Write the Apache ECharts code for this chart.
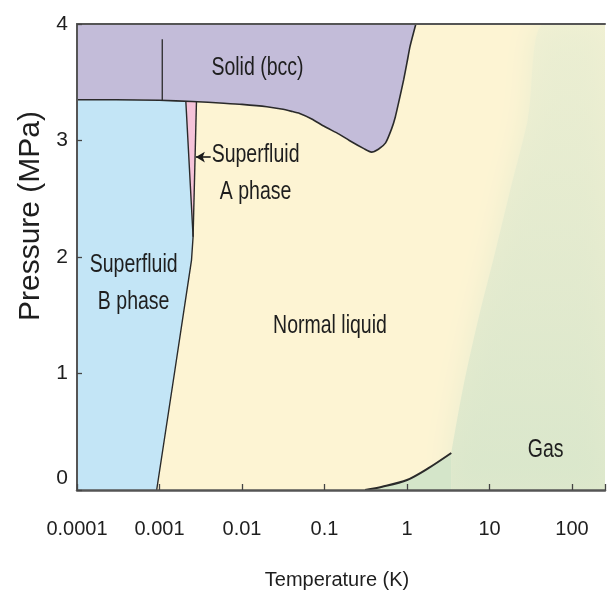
<!DOCTYPE html>
<html>
<head>
<meta charset="utf-8">
<script src="https://cdn.jsdelivr.net/npm/echarts@6/dist/echarts.min.js"></script>
<style>
html,body{margin:0;padding:0;background:#fff;}
#chart{width:608px;height:603px;}
</style>
</head>
<body>
<div id="chart"></div>
<script>
// ---- data ----
const xTickLabels = ['0.0001', '0.001', '0.01', '0.1', '1', '10', '100'];
const yTickLabels = ['0', '1', '2', '3', '4'];
const X_MIN = 0.0001, X_MAX = 251, Y_MIN = 0, Y_MAX = 4;

// melting curve (liquid / superfluid -> solid bcc)
const meltT = [0.0001, 0.0003, 0.001, 0.0025, 0.006, 0.01, 0.02, 0.03, 0.04, 0.05, 0.07, 0.1, 0.15, 0.2, 0.3, 0.37, 0.45, 0.55, 0.65, 0.72, 0.8, 0.91, 1.0, 1.09, 1.28];
const meltP = [3.35, 3.35, 3.345, 3.335, 3.32, 3.31, 3.29, 3.27, 3.25, 3.232, 3.185, 3.12, 3.055, 3.0, 2.93, 2.90, 2.925, 2.98, 3.10, 3.20, 3.34, 3.52, 3.67, 3.81, 4.0];

// boundary inside solid (vertical line)
const bccT = [0.00108, 0.00108];
const bccP = [3.345, 3.87];

// superfluid B boundary (B | normal, B | A)
const bBoundT = [0.000924, 0.001538, 0.002443, 0.002553, 0.002085];
const bBoundP = [0, 1.03, 1.974, 2.174, 3.336];

// A phase right boundary (A | normal)
const aRightT = [0.002553, 0.002805];
const aRightP = [2.174, 3.333];

// B phase region
const blueT = [0.0001, 0.000924, 0.001538, 0.002443, 0.002553, 0.002085, 0.001, 0.0003, 0.0001];
const blueP = [0, 0, 1.03, 1.974, 2.174, 3.336, 3.345, 3.35, 3.35];

// A phase region
const pinkT = [0.002085, 0.002553, 0.002805];
const pinkP = [3.336, 2.174, 3.333];

// vapour pressure curve
const vapT = [0.31, 0.5, 1.0, 1.8, 3.44];
const vapP = [0, 0.028, 0.086, 0.186, 0.318];

// soft liquid/gas edge above the critical point
const gasEdgeT = [3.44, 4.8, 7.27, 11.6, 18.2, 29.1, 46.6, X_MAX];
const gasEdgeP = [0.318, 0.884, 1.46, 2.03, 2.60, 3.18, 4.0, 4.0];

// region names
const regionNames = ['Solid (bcc)', 'Superfluid\nA phase', 'Superfluid\nB phase', 'Normal liquid', 'Gas'];
const regionT = [0.0154, 0.0146, 0.000486, 0.1164, 48];
const regionP = [3.618, 2.712, 1.773, 1.408, 0.343];

// arrow pointing at the A phase
const arrowT = [0.00417, 0.00276];
const arrowP = [2.858, 2.858];

// ---- chart ----
const FONT = "'Liberation Sans', Arial, sans-serif";
const TXT = '#1e1e1e';
const pairs = (a, b) => a.map((v, i) => [v, b[i]]);

function polygonSeries(Ts, Ps, color, z) {
  return {
    type: 'custom', silent: true, clip: true, z: z,
    data: pairs(Ts, Ps),
    encode: { x: 0, y: 1 },
    renderItem: function (params, api) {
      if (params.dataIndex !== 0) return null;
      const pts = Ts.map((t, i) => api.coord([t, Ps[i]]));
      return { type: 'polygon', shape: { points: pts }, style: { fill: color } };
    }
  };
}

function lineSeries(Ts, Ps, width, z, extra) {
  return Object.assign({
    type: 'line', silent: true, z: z,
    data: pairs(Ts, Ps),
    showSymbol: false, symbol: 'none',
    lineStyle: { color: '#2a2a2a', width: width }
  }, extra || {});
}

const chart = echarts.init(document.getElementById('chart'), null, { renderer: 'canvas' });

const option = {
  animation: false,
  grid: {
    left: 77, right: 0, top: 24, bottom: 113,
    show: true, backgroundColor: '#fdf4d3', borderWidth: 0
  },
  xAxis: [{
    type: 'log', logBase: 10, min: X_MIN, max: X_MAX, interval: 1,
    z: 10,
    name: 'Temperature (K)', nameLocation: 'middle', nameGap: 80,
    nameTextStyle: { fontFamily: FONT, fontSize: 20, color: TXT, padding: [0, 8, 0, 0] },
    axisLine: { show: true, lineStyle: { color: '#555', width: 2.5 } },
    axisTick: { show: true, inside: true, length: 6, lineStyle: { color: '#444', width: 1.3 } },
    axisLabel: {
      margin: 29, fontFamily: FONT, fontSize: 20, color: TXT,
      formatter: function (v) {
        const l = Math.log10(v), e = Math.round(l);
        if (Math.abs(l - e) > 1e-6) return '';
        return xTickLabels[e + 4] || '';
      }
    },
    splitLine: { show: false }
  }, {
    type: 'log', logBase: 10, min: X_MIN, max: X_MAX, position: 'top', z: 10,
    axisLine: { show: true, lineStyle: { color: '#555', width: 2 } },
    axisTick: { show: false }, axisLabel: { show: false }, splitLine: { show: false }
  }],
  yAxis: {
    type: 'value', min: Y_MIN, max: Y_MAX, interval: 1, z: 10,
    name: 'Pressure (MPa)', nameLocation: 'middle', nameGap: 30,
    nameTextStyle: { fontFamily: FONT, fontSize: 30, color: TXT, padding: [0, 0, 0, 82] },
    axisLine: { show: true, lineStyle: { color: '#555', width: 2 } },
    axisTick: { show: true, inside: true, length: 5, lineStyle: { color: '#444', width: 1.3 } },
    axisLabel: {
      margin: 9, fontFamily: FONT, fontSize: 21, color: TXT,
      formatter: function (v) {
        const s = yTickLabels[Math.round(v)] || '';
        return v === 0 ? '{lift|' + s + '}' : s;
      },
      rich: { lift: { fontFamily: FONT, fontSize: 21, color: TXT, padding: [0, 0, 24, 0] } }
    },
    splitLine: { show: false }
  },
  series: [
    // gas (soft edge above critical point)
    lineSeries(gasEdgeT, gasEdgeP, 0, 1, {
      smooth: 0.3,
      lineStyle: { width: 0, opacity: 0 },
      areaStyle: {
        origin: 'start',
        color: new echarts.graphic.LinearGradient(0, 0, 0, 1, [
          { offset: 0, color: '#edefd3' },
          { offset: 0.6, color: '#dee8cd' },
          { offset: 1, color: '#d3e4c9' }
        ]),
        shadowBlur: 28, shadowColor: 'rgba(224,234,207,1)'
      }
    }),
    // superfluid B and A regions
    polygonSeries(blueT, blueP, '#c3e5f6', 1),
    polygonSeries(pinkT, pinkP, '#f5c3d9', 1),
    // gas below vapour curve
    lineSeries(vapT, vapP, 2, 3, {
      smooth: 0.3,
      lineStyle: { color: '#2a2a2a', width: 2 },
      areaStyle: { origin: 'start', color: '#d4e5c9', opacity: 1 }
    }),
    // solid region above the melting curve
    lineSeries(meltT, meltP, 1.6, 3, {
      smooth: 0.2,
      areaStyle: { origin: 'end', color: '#c3bcd9', opacity: 1 }
    }),
    // other boundaries
    lineSeries(bccT, bccP, 1.3, 4),
    lineSeries(bBoundT, bBoundP, 1.4, 4),
    lineSeries(aRightT, aRightP, 1.4, 4),
    // arrow
    {
      type: 'line', silent: true, z: 5, data: [], symbol: 'none',
      markLine: {
        silent: true, animation: false,
        symbol: ['none', 'arrow'], symbolSize: [8, 9],
        label: { show: false },
        lineStyle: { color: '#1a1a1a', width: 1.6, type: 'solid' },
        data: [[{ coord: [arrowT[0], arrowP[0]] }, { coord: [arrowT[1], arrowP[1]] }]]
      }
    },
    // region names (condensed, tall lettering like the reference)
    {
      type: 'custom', silent: true, z: 6, clip: false,
      data: pairs(regionT, regionP),
      encode: { x: 0, y: 1 },
      renderItem: function (params, api) {
        const pt = api.coord([api.value(0), api.value(1)]);
        return {
          type: 'text', x: pt[0], y: pt[1], scaleX: 0.78,
          style: {
            text: regionNames[params.dataIndex],
            fontFamily: FONT, fontSize: 25, lineHeight: 37, fill: TXT,
            align: 'center', verticalAlign: 'middle'
          }
        };
      }
    }
  ]
};
chart.setOption(option);
</script>
</body>
</html>
